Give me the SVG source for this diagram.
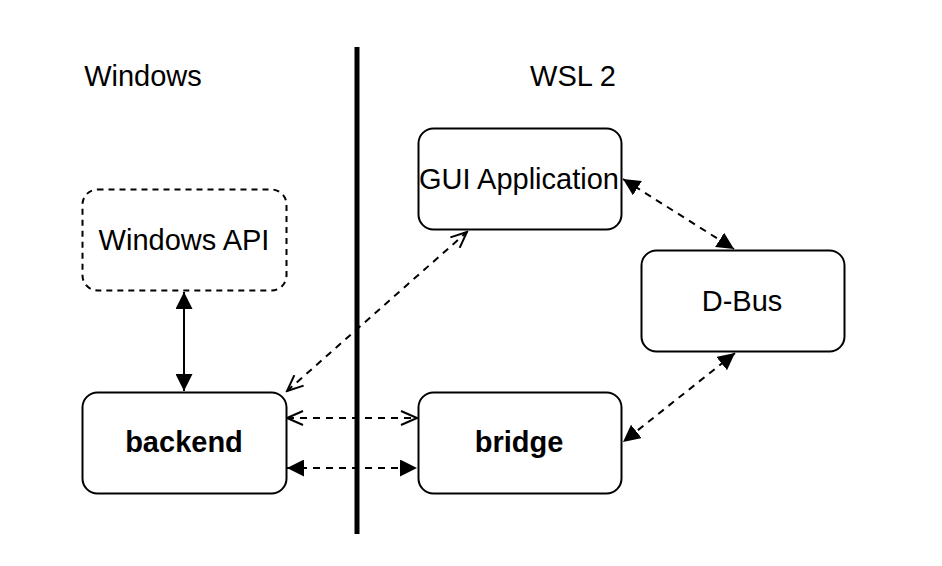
<svg xmlns="http://www.w3.org/2000/svg" width="942" height="566" viewBox="0 0 942 566">
<style>
.box{fill:#fff;stroke:#000;stroke-width:2}
.dbox{fill:#fff;stroke:#000;stroke-width:2;stroke-dasharray:6 5}
.t{font-family:"Liberation Sans",Arial,sans-serif;font-size:29px;fill:#000;text-anchor:middle}
.b{font-weight:bold}
.c{fill:none;stroke:#000;stroke-width:2}
.d{stroke-dasharray:7 6}
</style>
<defs>
<marker id="fa" viewBox="0 0 17 17" refX="17" refY="8.5" markerWidth="17" markerHeight="17" markerUnits="userSpaceOnUse" orient="auto-start-reverse">
<path d="M0,0 L17,8.5 L0,17 Z" fill="#000"/>
</marker>
<marker id="oa" viewBox="-1 -1 19 16" refX="16" refY="7" markerWidth="19" markerHeight="16" markerUnits="userSpaceOnUse" orient="auto-start-reverse">
<path d="M0,0 L16,7 L0,14" fill="none" stroke="#000" stroke-width="2"/>
</marker>
</defs>
<rect width="942" height="566" fill="#fff"/>
<g id="labels">
<text class="t" x="143" y="86">Windows</text>
<text class="t" x="573" y="86">WSL 2</text>
</g>
<g id="divider">
<line x1="357" y1="47" x2="357" y2="534" stroke="#000" stroke-width="5"/>
</g>
<g id="connectors">
<line class="c" x1="184" y1="292" x2="184" y2="391" marker-start="url(#fa)" marker-end="url(#fa)"/>
<line class="c d" x1="287" y1="418" x2="417" y2="418" marker-start="url(#oa)" marker-end="url(#oa)"/>
<line class="c d" x1="287" y1="468" x2="417" y2="468" marker-start="url(#fa)" marker-end="url(#fa)"/>
<line class="c d" x1="287" y1="391" x2="467" y2="232" marker-start="url(#oa)" marker-end="url(#oa)"/>
<line class="c d" x1="623" y1="179" x2="734" y2="249" marker-start="url(#fa)" marker-end="url(#fa)"/>
<line class="c d" x1="735" y1="353" x2="623" y2="442" marker-start="url(#fa)" marker-end="url(#fa)"/>
</g>
<g id="node-windows-api">
<rect class="dbox" x="82.5" y="189.5" width="204" height="101" rx="15"/>
<text class="t" x="184" y="250">Windows API</text>
</g>
<g id="node-backend">
<rect class="box" x="82.5" y="392.5" width="204" height="101" rx="15"/>
<text class="t b" x="184" y="452">backend</text>
</g>
<g id="node-gui">
<rect class="box" x="418.5" y="128.5" width="203" height="101" rx="15"/>
<text class="t" x="519" y="189">GUI Application</text>
</g>
<g id="node-bridge">
<rect class="box" x="418.5" y="392.5" width="203" height="101" rx="15"/>
<text class="t b" x="519" y="452">bridge</text>
</g>
<g id="node-dbus">
<rect class="box" x="641.5" y="250.5" width="203" height="101" rx="15"/>
<text class="t" x="742" y="311">D-Bus</text>
</g>
</svg>
